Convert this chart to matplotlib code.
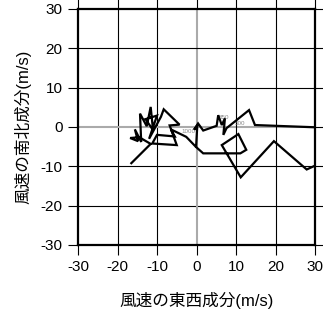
import matplotlib
matplotlib.use("Agg")
import matplotlib.pyplot as plt

plt.rcParams['font.family'] = ['Liberation Sans', 'Noto Sans CJK JP', 'DejaVu Sans']
plt.rcParams['axes.unicode_minus'] = False

# hodograph: east-west (u) and north-south (v) wind components, m/s
u_wind = [-16.5, -11.6, -14.5, -16.8, -14.8, -15.6, -14.0, -14.3, -12.6, -11.6,
          -11.0, -12.9, -10.0, -12.0, -9.0, -8.3, -4.3, -6.8, -5.0, -11.2,
          -10.0, -5.5, -6.5, -2.6, -0.1, 1.7, 11.1, 12.6, 10.6, 6.4,
          11.2, 19.6, 27.9, 30.5, 36.0, 14.8, 13.3, 7.6, 6.8, 7.2,
          6.4, 5.5, 5.1, 1.7, 0.4, -0.6, 0.2, -0.1]
v_wind = [-9.2, -4.3, -2.6, -2.8, -3.6, -0.6, -3.8, 3.4, 0.2, 5.1,
          -0.8, 2.0, 2.9, -3.0, 2.6, 4.5, 0.6, 0.4, -4.6, -4.2,
          -2.0, -2.4, -0.6, -2.5, -5.1, -6.7, -6.7, -5.8, -1.8, -4.6,
          -12.8, -3.6, -10.8, -9.6, -0.3, 0.5, 4.3, -0.3, -2.0, 2.2,
          0.5, 3.0, 0.3, -0.9, 0.9, -0.7, 0.4, -5.0]

# pressure level labels (hPa) and where they sit
level_text = ['1000', '850', '500']
level_u = [-3.9, 5.6, 9.7]
level_v = [-1.1, 2.3, 0.8]

ticks = [-30, -20, -10, 0, 10, 20, 30]

fig = plt.figure(figsize=(3.23, 3.13), dpi=100)
ax = fig.add_axes([78/323, 1 - 245/313, 237/323, 236/313])

for t in ticks[1:-1]:
    col = '#aaaaaa' if t == 0 else 'black'
    lw = 1.5 if t == 0 else 0.8
    ax.axvline(t, color=col, lw=lw, zorder=1)
    ax.axhline(t, color=col, lw=lw, zorder=1)

for s, x, y in zip(level_text, level_u, level_v):
    ax.text(x, y, s, fontsize=4.5, color='#888888', ha='left', va='center', zorder=2)

ax.plot(u_wind, v_wind, color='black', lw=1.6, zorder=3, solid_joinstyle='miter')

ax.set_xlim(-30, 30)
ax.set_ylim(-30, 30)
ax.set_xticks(ticks)
ax.set_yticks(ticks)
ax.tick_params(direction='out', length=7, width=0.8, labelsize=11, pad=4,
               top=True, right=True)
for sp in ax.spines.values():
    sp.set_linewidth(1.6)

ax.set_xlabel('風速の東西成分(m/s)', fontsize=12, labelpad=13)
ax.set_ylabel('風速の南北成分(m/s)', fontsize=12, labelpad=7)

plt.savefig('out.png', dpi=100)
plt.close()
